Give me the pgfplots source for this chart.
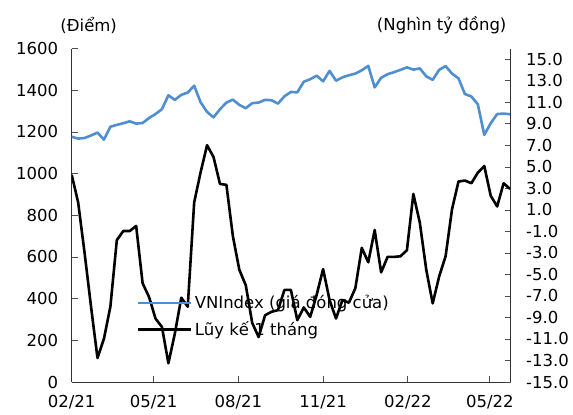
\documentclass[border=0pt]{standalone}
\usepackage{fontspec}
\setmainfont{DejaVu Sans}
\usepackage{pgfplots}
\pgfplotsset{compat=1.18}
\usepackage{pgfplotstable}
\usetikzlibrary{calc}

\definecolor{vniblue}{RGB}{79,143,209}

% weekly points, k = week since 1 Feb 2021
\pgfplotstableread{
k vni flow
0 1177 4.27
1 1168 1.70
2 1171 -3.00
3 1183 -8.00
4 1197 -12.77
5 1163 -10.98
6 1225 -8.00
7 1234 -1.81
8 1242 -0.96
9 1251 -0.96
10 1240 -0.49
11 1243 -5.82
12 1267 -7.10
13 1286 -9.10
14 1309 -9.88
15 1376 -13.26
16 1354 -10.50
17 1378 -7.16
18 1389 -8.00
19 1422 1.70
20 1342 4.51
21 1296 7.02
22 1270 5.92
23 1309 3.42
24 1341 3.33
25 1355 -1.43
26 1330 -4.56
27 1314 -6.00
28 1338 -9.50
29 1341 -10.82
30 1354 -8.79
31 1352 -8.47
32 1336 -8.32
33 1371 -6.44
34 1392 -6.44
35 1390 -9.25
36 1441 -8.07
37 1453 -8.94
38 1470 -6.90
39 1443 -4.50
40 1493 -7.38
41 1446 -9.10
42 1462 -7.38
43 1472 -7.63
44 1480 -6.28
45 1496 -2.53
46 1517 -3.87
47 1414 -0.87
48 1460 -4.81
49 1477 -3.37
50 1487 -3.37
51 1498 -3.31
52 1510 -2.75
53 1499 2.48
54 1505 -0.18
55 1467 -4.56
56 1450 -7.69
57 1498 -5.19
58 1516 -3.31
59 1480 1.07
60 1457 3.64
61 1382 3.73
62 1370 3.48
63 1333 4.46
64 1186 5.08
65 1242 2.32
66 1286 1.32
67 1288 3.48
68 1285 2.95
}\data

\pgfplotsset{
  base/.style={
    scale only axis, width=439pt, height=333.4pt,
    xmin=0, xmax=68.1,
    tick align=inside, major tick length=6pt,
    tick style={black!70, line width=0.8pt},
    axis line style={black!80, line width=0.9pt, -},
    ticklabel style={font=\fontsize{16.5}{19}\selectfont},
    /pgf/number format/assume math mode=true,
    /pgf/number format/1000 sep={},
  }
}

\begin{document}
\begin{tikzpicture}
\begin{axis}[base, name=main,
  axis x line*=bottom, axis y line*=left,
  xtick pos=bottom, ytick pos=left,
  ymin=0, ymax=1600, ytick={0,200,...,1600},
  xtick={0,12.714,25.857,39,52.143,64.857},
  xticklabels={02/21,05/21,08/21,11/21,02/22,05/22},
  xticklabel style={yshift=-10pt},
  yticklabel style={xshift=-10pt},
]
\addplot[vniblue, line width=2.6pt, line join=round] table[x=k, y=vni] {\data};
\end{axis}

\begin{axis}[base,
  axis x line=none, axis y line*=right, ytick pos=right,
  ymin=-15, ymax=16, ytick={-15,-13,...,15},
  yticklabel style={anchor=west, xshift=12pt,
    /pgf/number format/.cd, fixed, fixed zerofill, precision=1},
  legend image code/.code={\draw[#1] (0pt,0pt) -- (53pt,0pt);},
  legend cell align=left,
  legend style={draw=none, fill=none, at={(0.1487,0.1965)}, anchor=west,
    inner sep=0pt, row sep=7.5pt, font=\fontsize{16.5}{19}\selectfont},
]
\addlegendimage{vniblue, line width=2.6pt}
\addlegendentry{VNIndex (giá đóng cửa)}
\addplot[black, line width=2.6pt, line join=round] table[x=k, y=flow] {\data};
\addlegendentry{Lũy kế 1 tháng}
\end{axis}

\node[font=\fontsize{16.5}{19}\selectfont] at ($(main.south west)+(17pt,357pt)$) {(Điểm)};
\node[font=\fontsize{16.5}{19}\selectfont] at ($(main.south west)+(370pt,357pt)$) {(Nghìn tỷ đồng)};

\pgfresetboundingbox
\path ($(main.south west)+(-71.7pt,-33pt)$) rectangle ($(main.south west)+(501.3pt,382pt)$);
\end{tikzpicture}
\end{document}
